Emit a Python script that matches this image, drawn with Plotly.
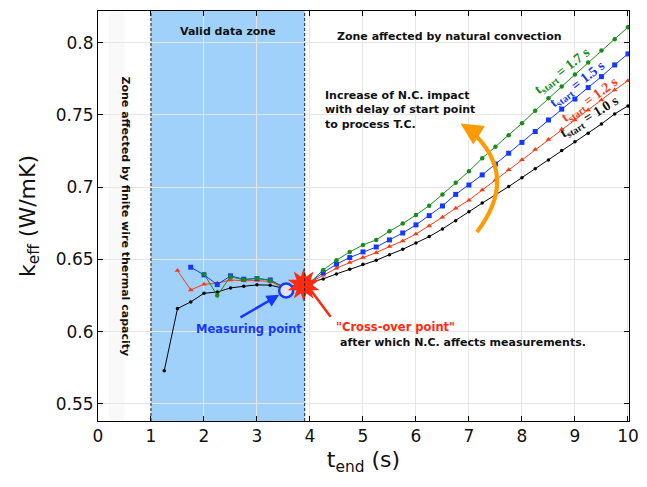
import plotly.graph_objects as go

# ---- data ----
T_END = [1.25, 1.5, 1.75, 2.0, 2.25, 2.5, 2.75, 3.0, 3.25, 3.5, 3.75, 4.0,
         4.25, 4.5, 4.75, 5.0, 5.25, 5.5, 5.75, 6.0, 6.25, 6.5, 6.75, 7.0,
         7.25, 7.5, 7.75, 8.0, 8.25, 8.5, 8.75, 9.0, 9.25, 9.5, 9.75, 10.0]

k_10 = [0.573, 0.616, 0.6206, 0.6266, 0.6274, 0.6303, 0.6314, 0.6324, 0.6322, 0.630, 0.6318, 0.634,
        0.6365, 0.640, 0.6432, 0.6467, 0.6494, 0.6533, 0.657, 0.6614, 0.6658, 0.6711, 0.6768, 0.683,
        0.689, 0.6946, 0.7004, 0.7066, 0.7128, 0.7188, 0.7253, 0.7315, 0.7373, 0.7437, 0.7507, 0.7562]
k_12 = [0.6423, 0.6289, 0.6328, 0.6335, 0.6358, 0.6352, 0.6354, 0.6347, 0.6305, 0.632, 0.634,
        0.639, 0.6439, 0.6478, 0.6513, 0.6547, 0.6589, 0.6628, 0.6676, 0.6732, 0.6792, 0.6854, 0.691,
        0.698, 0.705, 0.712, 0.719, 0.726, 0.733, 0.740, 0.7465, 0.7534, 0.7604, 0.7673, 0.7737]
k_15 = [0.6446, 0.6393, 0.6326, 0.6386, 0.6363, 0.6368, 0.6358, 0.631, 0.632, 0.634,
        0.6409, 0.6467, 0.6513, 0.6552, 0.6586, 0.6635, 0.6683, 0.6739, 0.6803, 0.687, 0.695, 0.7015,
        0.7085, 0.716, 0.7235, 0.731, 0.7385, 0.7465, 0.754, 0.761, 0.7689, 0.7765, 0.7846, 0.7922]
k_17 = [0.640, 0.625, 0.6381, 0.6358, 0.637, 0.6354, 0.631, 0.632, 0.634,
        0.6427, 0.6494, 0.6552, 0.660, 0.6635, 0.6695, 0.6748, 0.6808, 0.6872, 0.695, 0.703, 0.711,
        0.720, 0.728, 0.7359, 0.7442, 0.7529, 0.7615, 0.7696, 0.7779, 0.7862, 0.7945, 0.8024, 0.8107]

series = [
    ("1.0", T_END, k_10, "#000000", "circle", 3.5),
    ("1.2", T_END[1:], k_12, "#ff3814", "triangle-up", 5),
    ("1.5", T_END[2:], k_15, "#1438ff", "square", 5),
    ("1.7", T_END[3:], k_17, "#1a8a1a", "circle", 4.5),
]

measure_pt = (3.55, 0.6285)
cross_pt = (3.88, 0.6323)

fig = go.Figure()

# zones
fig.add_shape(type="rect", xref="x", yref="y", x0=1, x1=3.9, y0=0.5382, y1=0.8219,
              fillcolor="#9fd1fa", line_width=0, layer="below")
fig.add_shape(type="rect", xref="x", yref="y", x0=0.2, x1=0.5, y0=0.5382, y1=0.8219,
              fillcolor="rgba(0,0,0,0.022)", line_width=0, layer="below")
for xv in (1, 3.9):
    fig.add_shape(type="line", xref="x", yref="paper", x0=xv, x1=xv, y0=0, y1=1,
                  line=dict(color="#222", width=1, dash="3px,2px"), layer="above")

for name, xs, ys, col, sym, ms in series:
    fig.add_trace(go.Scatter(x=xs, y=ys, mode="lines+markers", name=name,
                             line=dict(color=col, width=1),
                             marker=dict(symbol=sym, size=ms, color=col),
                             showlegend=False))

# orange curved arrow
fig.add_shape(type="path", xref="x", yref="y",
              path="M 7.151,0.6690 Q 7.972,0.7085 7.019,0.7396",
              line=dict(color="#ff9a00", width=4))
fig.add_annotation(x=6.84, y=0.7440, ax=7.05, ay=0.7392, xref="x", yref="y",
                   axref="x", ayref="y", text="", showarrow=True,
                   arrowhead=2, arrowsize=1.1, arrowwidth=4, arrowcolor="#ff9a00")

# measuring point arrow + marker
fig.add_annotation(x=3.42, y=0.6255, ax=2.66, ay=0.6093, xref="x", yref="y",
                   axref="x", ayref="y", text="", showarrow=True,
                   arrowhead=2, arrowsize=1, arrowwidth=2.5, arrowcolor="#1438ff")
fig.add_trace(go.Scatter(x=[measure_pt[0]], y=[measure_pt[1]], mode="markers",
                         marker=dict(symbol="circle", size=14, color="#e4e4ec",
                                     line=dict(color="#1438ff", width=2.5)),
                         showlegend=False))
# cross-over arrow + star
fig.add_annotation(x=4.02, y=0.6285, ax=4.41, ay=0.6093, xref="x", yref="y",
                   axref="x", ayref="y", text="", showarrow=True,
                   arrowhead=0, arrowwidth=2.5, arrowcolor="#ff2a10")
for ang in (0, 36):
    fig.add_trace(go.Scatter(x=[cross_pt[0]], y=[cross_pt[1]], mode="markers",
                             marker=dict(symbol="star", size=24, color="#ff2a10", angle=ang,
                                         line=dict(width=0)),
                             showlegend=False))

bold = dict(family="DejaVu Sans", size=11, color="#111")
fig.add_annotation(x=2.45, y=0.8074, text="<b>Valid data zone</b>", showarrow=False, font=bold)
fig.add_annotation(x=6.64, y=0.8046, text="<b>Zone affected by natural convection</b>",
                   showarrow=False, font=bold)
fig.add_annotation(x=0.52, y=0.680, text="<b>Zone affected by finite wire thermal capacity</b>",
                   textangle=90, showarrow=False, font=dict(family="DejaVu Sans", size=11, color="#111"))
fig.add_annotation(x=4.245, y=0.7534, xanchor="left", align="left",
                   text="<b>Increase of N.C. impact<br>with delay of start point<br>to process T.C.</b>",
                   showarrow=False, font=dict(family="DejaVu Sans", size=11, color="#111"))
fig.add_annotation(x=2.85, y=0.6017, text="<b>Measuring point</b>", showarrow=False,
                   font=dict(family="DejaVu Sans", size=11.5, color="#1438ff"))
fig.add_annotation(x=5.62, y=0.6033, text="<b>\"Cross-over point\"</b>", showarrow=False,
                   font=dict(family="DejaVu Sans", size=11.5, color="#ff2a10"))
fig.add_annotation(x=6.88, y=0.5922, text="<b>after which N.C. affects measurements.</b>",
                   showarrow=False, font=bold)

labels = [("1.7", 8.77, 0.7797, -38, "#1a8a1a"),
          ("1.5", 9.06, 0.7707, -38, "#1438ff"),
          ("1.2", 9.28, 0.7603, -36, "#ff3814"),
          ("1.0", 9.28, 0.7479, -32, "#111111")]
for v, lx, ly, ang, col in labels:
    fig.add_annotation(x=lx, y=ly, text=f"<b>t<sub>start</sub> = {v} s</b>", textangle=ang,
                       showarrow=False, font=dict(family="Liberation Serif", size=14, color=col))

axis_common = dict(showline=True, linecolor="black", linewidth=1, mirror="ticks",
                   ticks="inside", ticklen=5, tickcolor="black", showgrid=True,
                   gridcolor="#e6e6e6", zeroline=False, automargin=False,
                   tickfont=dict(family="DejaVu Sans", size=17, color="#111"))
fig.update_xaxes(range=[0, 10.02], tickvals=list(range(0, 11)),
                 title=dict(text="t<sub>end</sub> (s)", font=dict(family="DejaVu Sans", size=22, color="#111"),
                            standoff=6),
                 **axis_common)
fig.update_yaxes(range=[0.5382, 0.8219], tickvals=[0.55, 0.6, 0.65, 0.7, 0.75, 0.8],
                 ticktext=["0.55", "0.6", "0.65", "0.7", "0.75", "0.8"],
                 title=dict(text="k<sub>eff</sub> (W/mK)", font=dict(family="DejaVu Sans", size=22, color="#111"),
                            standoff=14),
                 **axis_common)
# the page body adds an 8 px offset; margins compensate so the plot area lands where the reference has it
fig.update_layout(width=639, height=479, margin=dict(l=90, r=18, t=3, b=66),
                  plot_bgcolor="white", paper_bgcolor="white")
fig.write_html("out.html")
